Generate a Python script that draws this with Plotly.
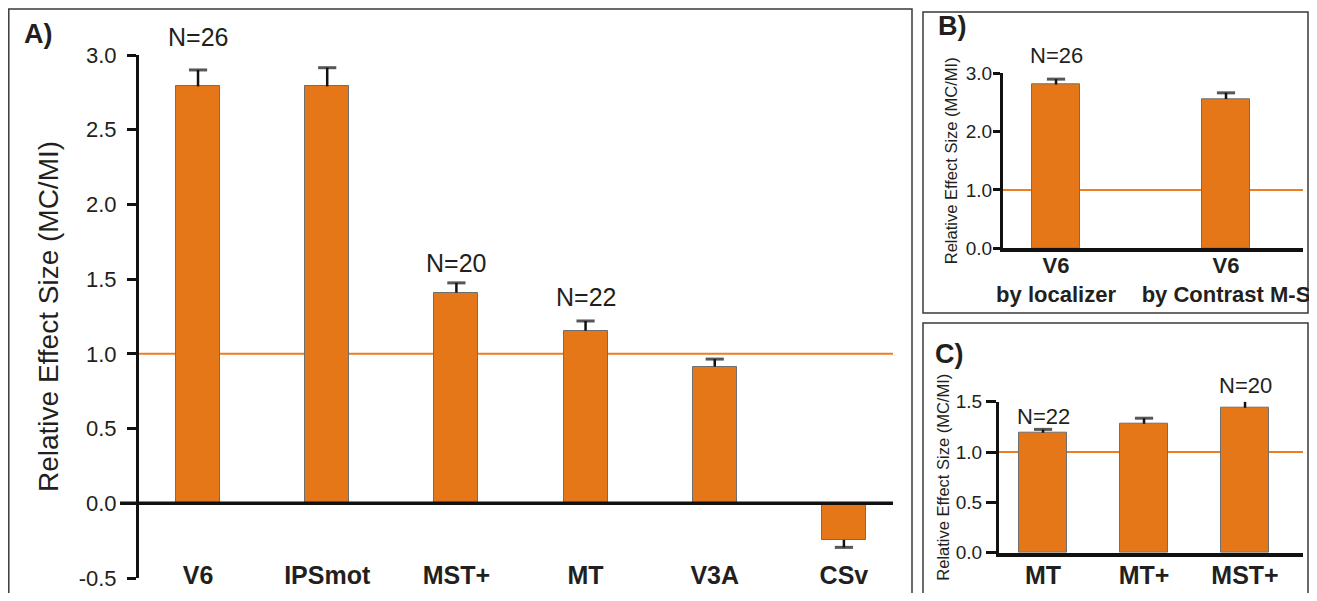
import plotly.graph_objects as go

# reference canvas and page offset (the page body has an 8px margin)
W, H = 1317, 601
OX, OY = 8, 8
FW, FH = W - 2 * OX, H - 2 * OY

FONT = "Arial, Liberation Sans, sans-serif"
TXT = "#231f20"
ORANGE = "#e57718"
LINE_OR = "#ef7d22"
EDGE = "#6e6e6e"
ERR = "#111111"

# ---------------- data ----------------
regions_a = ["V6", "IPSmot", "MST+", "MT", "V3A", "CSv"]
effect_a = [2.79, 2.79, 1.41, 1.155, 0.915, -0.245]
sem_a = [0.11, 0.125, 0.065, 0.065, 0.05, 0.05]
n_labels_a = ["N=26", "N=20", "N=22"]
n_regions_a = ["V6", "MST+", "MT"]

regions_b = ["V6<br>by localizer", "V6<br>by Contrast M-S"]
effect_b = [2.81, 2.56]
sem_b = [0.09, 0.105]
n_labels_b = ["N=26"]
n_regions_b = ["V6<br>by localizer"]

regions_c = ["MT", "MT+", "MST+"]
effect_c = [1.192, 1.281, 1.44]
sem_c = [0.033, 0.055, 0.062]
n_labels_c = ["N=22", "N=20"]
n_regions_c = ["MT", "MST+"]

ticks_a = [-0.5, 0.0, 0.5, 1.0, 1.5, 2.0, 2.5, 3.0]
ticks_b = [0.0, 1.0, 2.0, 3.0]
ticks_c = [0.0, 0.5, 1.0, 1.5]
baseline = 1.0

# label offsets (px above the bar top) -- styling only
shift_a = [49, 30, 34]
shift_b = [29]
shift_c = [16, 22]


def px(x):
    return (x - OX) / FW


def py(y):
    return 1 - (y - OY) / FH


def fmt(ticks):
    return [f"{t:.1f}" for t in ticks]


fig = go.Figure()


def add_bars(cats, vals, errs, xa, ya, width):
    fig.add_trace(go.Bar(
        x=cats, y=vals, xaxis=xa, yaxis=ya, width=width,
        marker=dict(color=ORANGE, line=dict(color=EDGE, width=1)),
        showlegend=False, hoverinfo="x+y",
    ))
    # one-sided error bars: stem from the bar end outward, cap at the tip
    xs, ys, sizes = [], [], []
    for c, v, e in zip(cats, vals, errs):
        tip = v + e if v >= 0 else v - e
        xs += [c, c, None]
        ys += [v, tip, None]
        sizes += [0, 13, 0]
    fig.add_trace(go.Scatter(
        x=xs, y=ys, xaxis=xa, yaxis=ya, mode="lines+markers",
        line=dict(color=ERR, width=2.5),
        marker=dict(symbol="line-ew", size=sizes,
                    line=dict(color=ERR, width=3)),
        cliponaxis=False, showlegend=False, hoverinfo="skip",
    ))


add_bars(regions_a, effect_a, sem_a, "x", "y", 0.34)
add_bars(regions_b, effect_b, sem_b, "x2", "y2", 0.28)
add_bars(regions_c, effect_c, sem_c, "x3", "y3", 0.475)

axfont = dict(family=FONT, color=TXT)
common = dict(showgrid=False, zeroline=False, automargin=False)

fig.update_layout(
    template="none",
    width=FW, height=FH, margin=dict(l=0, r=0, t=0, b=0, pad=0),
    paper_bgcolor="white", plot_bgcolor="rgba(0,0,0,0)",
    font=dict(family=FONT, color=TXT),
    bargap=0,
    # Panel A
    xaxis=dict(domain=[px(139), px(893)], anchor="free", position=py(558),
               type="category", range=[-0.457, 5.38], showline=False,
               ticks="", **common,
               tickfont=dict(size=25, family=FONT, color=TXT, weight="bold")),
    yaxis=dict(domain=[py(578), py(55)], range=[-0.5, 3.0], tickvals=ticks_a,
               ticktext=fmt(ticks_a), showline=True, linewidth=3,
               linecolor="#111", ticks="outside", ticklen=9, tickwidth=3,
               tickcolor="#111", ticklabelstandoff=6, **common,
               tickfont=dict(size=22, **axfont),
               title=dict(text="Relative Effect Size (MC/MI)",
                          font=dict(size=28, **axfont), standoff=12)),
    # Panel B
    xaxis2=dict(domain=[px(1003), px(1303)], anchor="y2", type="category",
                range=[-0.312, 1.453], showline=True, linewidth=3.5,
                linecolor="#111", ticks="", ticklabelstandoff=-5, **common,
                tickfont=dict(size=22, family=FONT, color=TXT, weight="bold")),
    yaxis2=dict(domain=[py(248.3), py(73.3)], anchor="x2", range=[0, 3.0],
                tickvals=ticks_b, ticktext=fmt(ticks_b), showline=True,
                linewidth=3, linecolor="#111", ticks="outside", ticklen=7,
                tickwidth=3, tickcolor="#111", ticklabelstandoff=-3, **common,
                tickfont=dict(size=19, **axfont),
                title=dict(text="Relative Effect Size (MC/MI)",
                           font=dict(size=16.5, **axfont), standoff=5)),
    # Panel C
    xaxis3=dict(domain=[px(999), px(1303)], anchor="y3", type="category",
                range=[-0.436, 2.574], showline=True, linewidth=3.5,
                linecolor="#111", ticks="", ticklabelstandoff=-2, **common,
                tickfont=dict(size=25, family=FONT, color=TXT, weight="bold")),
    yaxis3=dict(domain=[py(552.7), py(401.7)], anchor="x3", range=[0, 1.5],
                tickvals=ticks_c, ticktext=fmt(ticks_c), showline=True,
                linewidth=3, linecolor="#111", ticks="outside", ticklen=10,
                tickwidth=3, tickcolor="#111", ticklabelstandoff=0, **common,
                tickfont=dict(size=19, **axfont),
                title=dict(text="Relative Effect Size (MC/MI)",
                           font=dict(size=16.5, **axfont), standoff=2)),
)

shapes = []
# panel frames
for x0, y0, x1, y1 in [(8.8, 9, 912, 610), (923, 12, 1308, 313), (923, 323, 1308, 610)]:
    shapes.append(dict(type="rect", xref="paper", yref="paper",
                       x0=px(x0), x1=px(x1), y0=py(y1), y1=py(y0),
                       line=dict(color="#3a3a3a", width=1.5), layer="below"))
# reference lines at 1.0
for x0, x1, yr in [(139, 893, "y"), (1003, 1303, "y2"), (987, 1303, "y3")]:
    shapes.append(dict(type="line", xref="paper", yref=yr, x0=px(x0), x1=px(x1),
                       y0=baseline, y1=baseline,
                       line=dict(color=LINE_OR, width=2), layer="below"))
# zero axis line of panel A
shapes.append(dict(type="line", xref="paper", yref="y", x0=px(120), x1=px(893),
                   y0=0, y1=0, line=dict(color="#111", width=3.5), layer="above"))
fig.update_layout(shapes=shapes)

ann = []


def n_labels(labels, cats, vals, regions, shifts, xr, yr, size):
    top = dict(zip(regions, vals))
    for t, c, s in zip(labels, cats, shifts):
        ann.append(dict(text=t, x=c, y=top[c], xref=xr, yref=yr, showarrow=False,
                        font=dict(size=size, **axfont), yanchor="middle",
                        yshift=s))


n_labels(n_labels_a, n_regions_a, effect_a, regions_a, shift_a, "x", "y", 25)
n_labels(n_labels_b, n_regions_b, effect_b, regions_b, shift_b, "x2", "y2", 22)
n_labels(n_labels_c, n_regions_c, effect_c, regions_c, shift_c, "x3", "y3", 22)

for t, x, y in [("A)", 38, 34), ("B)", 952, 26), ("C)", 949, 354)]:
    ann.append(dict(text=t, x=px(x), y=py(y), xref="paper", yref="paper",
                    showarrow=False, xanchor="center", yanchor="middle",
                    font=dict(size=27, family=FONT, color=TXT, weight="bold")))
fig.update_layout(annotations=ann)

fig.write_html("out.html")
